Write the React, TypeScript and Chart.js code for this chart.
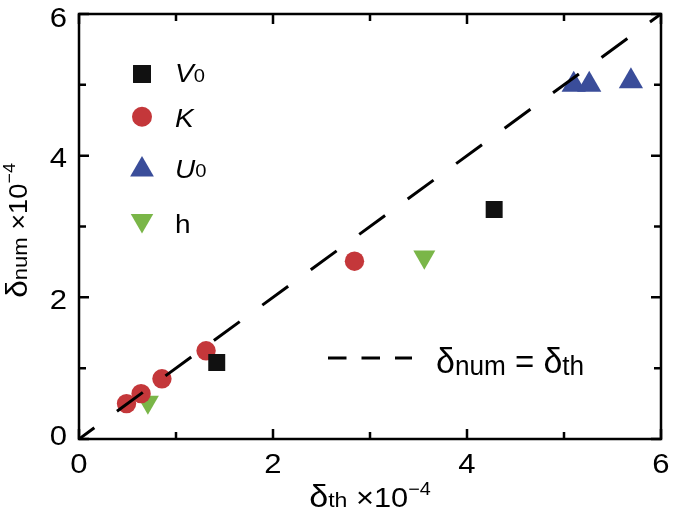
import React, { useEffect, useRef } from 'react';
import { Chart, registerables } from 'chart.js';

Chart.register(...registerables);

// ---- data ----
const SERIES_LABELS = ['V0', 'K', 'U0', 'h'];
const V0_X = [1.42, 4.28];
const V0_Y = [1.08, 3.24];
const K_X = [0.49, 0.64, 0.855, 1.31, 2.84];
const K_Y = [0.5, 0.64, 0.85, 1.245, 2.51];
const U0_X = [5.1, 5.26, 5.69];
const U0_Y = [5.0, 5.0, 5.05];
const H_X = [0.71, 3.56];
const H_Y = [0.52, 2.57];
const LINE_X = [0, 6];
const LINE_Y = [0, 6];
const X_TICKS = [0, 2, 4, 6];
const Y_TICKS = [0, 2, 4, 6];
const MINOR_TICKS = [1, 3, 5];

const BLACK = '#111111';
const RED = '#c4373a';
const BLUE = '#3a4d9a';
const GREEN = '#7ab648';
const FAMILY = '"Liberation Sans", Arial, Helvetica, sans-serif';

type Run = { t: string; size: number; italic?: boolean; dy?: number };

const fontOf = (r: Run) => `${r.italic ? 'italic ' : ''}${r.size}px ${FAMILY}`;

function drawRuns(ctx: CanvasRenderingContext2D, runs: Run[], x: number, y: number, align: 'left' | 'center' | 'right', sx: number) {
  const ws = runs.map((r) => {
    ctx.font = fontOf(r);
    return ctx.measureText(r.t).width * sx;
  });
  const total = ws.reduce((a, b) => a + b, 0);
  let cx = align === 'center' ? x - total / 2 : align === 'right' ? x - total : x;
  runs.forEach((r, i) => {
    ctx.save();
    ctx.font = fontOf(r);
    ctx.textAlign = 'left';
    ctx.textBaseline = 'alphabetic';
    ctx.translate(cx, y + (r.dy || 0));
    ctx.scale(sx, 1);
    ctx.fillText(r.t, 0, 0);
    ctx.restore();
    cx += ws[i];
  });
  return total;
}

function shape(ctx: CanvasRenderingContext2D, kind: string, x: number, y: number, r: number, color: string) {
  ctx.save();
  ctx.fillStyle = color;
  ctx.beginPath();
  if (kind === 'rect') {
    const s = r * Math.SQRT1_2;
    ctx.rect(x - s, y - s, 2 * s, 2 * s);
  } else if (kind === 'circle') {
    ctx.arc(x, y, r, 0, Math.PI * 2);
  } else {
    const rot = kind === 'down' ? Math.PI : 0;
    for (let k = 0; k < 3; k++) {
      const a = rot + (k * 2 * Math.PI) / 3;
      const px = x + Math.sin(a) * r;
      const py = y - Math.cos(a) * r;
      if (k === 0) ctx.moveTo(px, py);
      else ctx.lineTo(px, py);
    }
    ctx.closePath();
  }
  ctx.fill();
  ctx.restore();
}

const decorPlugin = {
  id: 'decor',
  afterDraw(chart: any) {
    const ctx: CanvasRenderingContext2D = chart.ctx;
    const xs = chart.scales.x;
    const ys = chart.scales.y;
    const { left, right, top, bottom } = chart.chartArea;
    ctx.save();
    ctx.strokeStyle = '#000';
    ctx.fillStyle = '#000';
    ctx.lineWidth = 2.5;
    // frame
    ctx.strokeRect(left, top, right - left, bottom - top);
    // ticks
    const tick = (v: number, len: number) => {
      const px = xs.getPixelForValue(v);
      const py = ys.getPixelForValue(v);
      ctx.beginPath();
      ctx.moveTo(px, bottom);
      ctx.lineTo(px, bottom - len);
      ctx.moveTo(px, top);
      ctx.lineTo(px, top + len);
      ctx.moveTo(left, py);
      ctx.lineTo(left + len, py);
      ctx.moveTo(right, py);
      ctx.lineTo(right - len, py);
      ctx.stroke();
    };
    X_TICKS.forEach((v) => tick(v, 10));
    MINOR_TICKS.forEach((v) => tick(v, 7));

    const SX = 1.15;
    const TS = 27;
    // x tick labels
    X_TICKS.forEach((v) => {
      let px = xs.getPixelForValue(v);
      ctx.font = `${TS}px ${FAMILY}`;
      const w = ctx.measureText(String(v)).width * SX;
      if (px + w / 2 > chart.width) px = chart.width - w / 2;
      drawRuns(ctx, [{ t: String(v), size: TS }], px, bottom + 34, 'center', SX);
    });
    // y tick labels
    Y_TICKS.forEach((v) => {
      let cy = ys.getPixelForValue(v) + 2;
      if (cy < 17) cy = 17;
      if (cy > bottom - 4) cy = bottom - 4;
      drawRuns(ctx, [{ t: String(v), size: TS }], left - 12, cy + 9.8, 'right', SX);
    });

    // x title
    drawRuns(
      ctx,
      [
        { t: 'δ', size: 31 },
        { t: 'th', size: 21 },
        { t: ' ×10', size: 28 },
        { t: '−4', size: 18, dy: -12 },
      ],
      (left + right) / 2,
      507,
      'center',
      1.1
    );
    // y title
    ctx.save();
    ctx.translate(27, (top + bottom) / 2 + 4);
    ctx.rotate(-Math.PI / 2);
    drawRuns(
      ctx,
      [
        { t: 'δ', size: 30 },
        { t: 'num', size: 21 },
        { t: ' ×10', size: 26 },
        { t: '−4', size: 17, dy: -12 },
      ],
      0,
      0,
      'center',
      1.05
    );
    ctx.restore();

    // legend
    const lx = left + 63;
    const items: [string, number, string, number, Run[]][] = [
      ['rect', 12.7, BLACK, 74, [{ t: 'V', size: 25, italic: true }, { t: '0', size: 18 }]],
      ['circle', 10, RED, 116.7, [{ t: 'K', size: 25, italic: true }]],
      ['up', 13.7, BLUE, 169.7, [{ t: 'U', size: 25, italic: true }, { t: '0', size: 18, dy: -1 }]],
      ['down', 13, GREEN, 220.5, [{ t: 'h', size: 25 }]],
    ];
    const baselines = [81.7, 127.3, 178.3, 233.3];
    items.forEach((it, i) => {
      shape(ctx, it[0], lx, it[3], it[1], it[2]);
      ctx.fillStyle = '#000';
      drawRuns(ctx, it[4], left + 96, baselines[i], 'left', 1.12);
    });

    // dashed line legend
    ctx.lineWidth = 3;
    ctx.strokeStyle = '#000';
    ctx.beginPath();
    [[328, 346.5], [361.5, 380], [395, 412]].forEach(([a, b]) => {
      ctx.moveTo(a, 358);
      ctx.lineTo(b, 358);
    });
    ctx.stroke();
    ctx.fillStyle = '#000';
    drawRuns(
      ctx,
      [
        { t: 'δ', size: 35 },
        { t: 'num', size: 27, dy: 2 },
        { t: ' = ', size: 34 },
        { t: 'δ', size: 35 },
        { t: 'th', size: 27, dy: 2 },
      ],
      436,
      373,
      'left',
      0.97
    );
    ctx.restore();
  },
};

const pts = (xs: number[], ys: number[]) => xs.map((x, i) => ({ x, y: ys[i] }));

export default function App() {
  const ref = useRef<HTMLCanvasElement | null>(null);
  useEffect(() => {
    if (!ref.current) return;
    const chart = new Chart(ref.current, {
      type: 'scatter',
      data: {
        datasets: [
          {
            type: 'line',
            label: 'δnum = δth',
            data: pts(LINE_X, LINE_Y),
            borderColor: '#000',
            borderWidth: 3,
            borderDash: [32, 28],
            borderDashOffset: 13,
            pointRadius: 0,
            fill: false,
            order: 0,
          } as any,
          {
            label: SERIES_LABELS[0],
            data: pts(V0_X, V0_Y),
            pointStyle: 'rect',
            pointRadius: 12,
            pointBackgroundColor: BLACK,
            pointBorderWidth: 0,
            order: 1,
          },
          {
            label: SERIES_LABELS[1],
            data: pts(K_X, K_Y),
            pointStyle: 'circle',
            pointRadius: 9.7,
            pointBackgroundColor: RED,
            pointBorderWidth: 0,
            order: 1,
          },
          {
            label: SERIES_LABELS[2],
            data: pts(U0_X, U0_Y),
            pointStyle: 'triangle',
            pointRadius: 14,
            pointBackgroundColor: BLUE,
            pointBorderWidth: 0,
            order: 1,
          },
          {
            label: SERIES_LABELS[3],
            data: pts(H_X, H_Y),
            pointStyle: 'triangle',
            pointRotation: 180,
            pointRadius: 12.7,
            pointBackgroundColor: GREEN,
            pointBorderWidth: 0,
            order: 1,
          },
        ],
      },
      options: {
        animation: false,
        responsive: false,
        events: [],
        layout: { padding: { left: 79, top: 5, right: 8, bottom: 73 } },
        plugins: { legend: { display: false }, tooltip: { enabled: false } },
        scales: {
          x: { type: 'linear', min: 0, max: 6, display: false },
          y: { type: 'linear', min: 0, max: 6, display: false },
        },
      },
      plugins: [decorPlugin],
    } as any);
    return () => chart.destroy();
  }, []);
  return (
    <div style={{ position: 'absolute', left: 0, top: 0, width: 675, height: 512, background: '#fff' }}>
      <canvas ref={ref} width={675} height={512} style={{ display: 'block' }} />
    </div>
  );
}
